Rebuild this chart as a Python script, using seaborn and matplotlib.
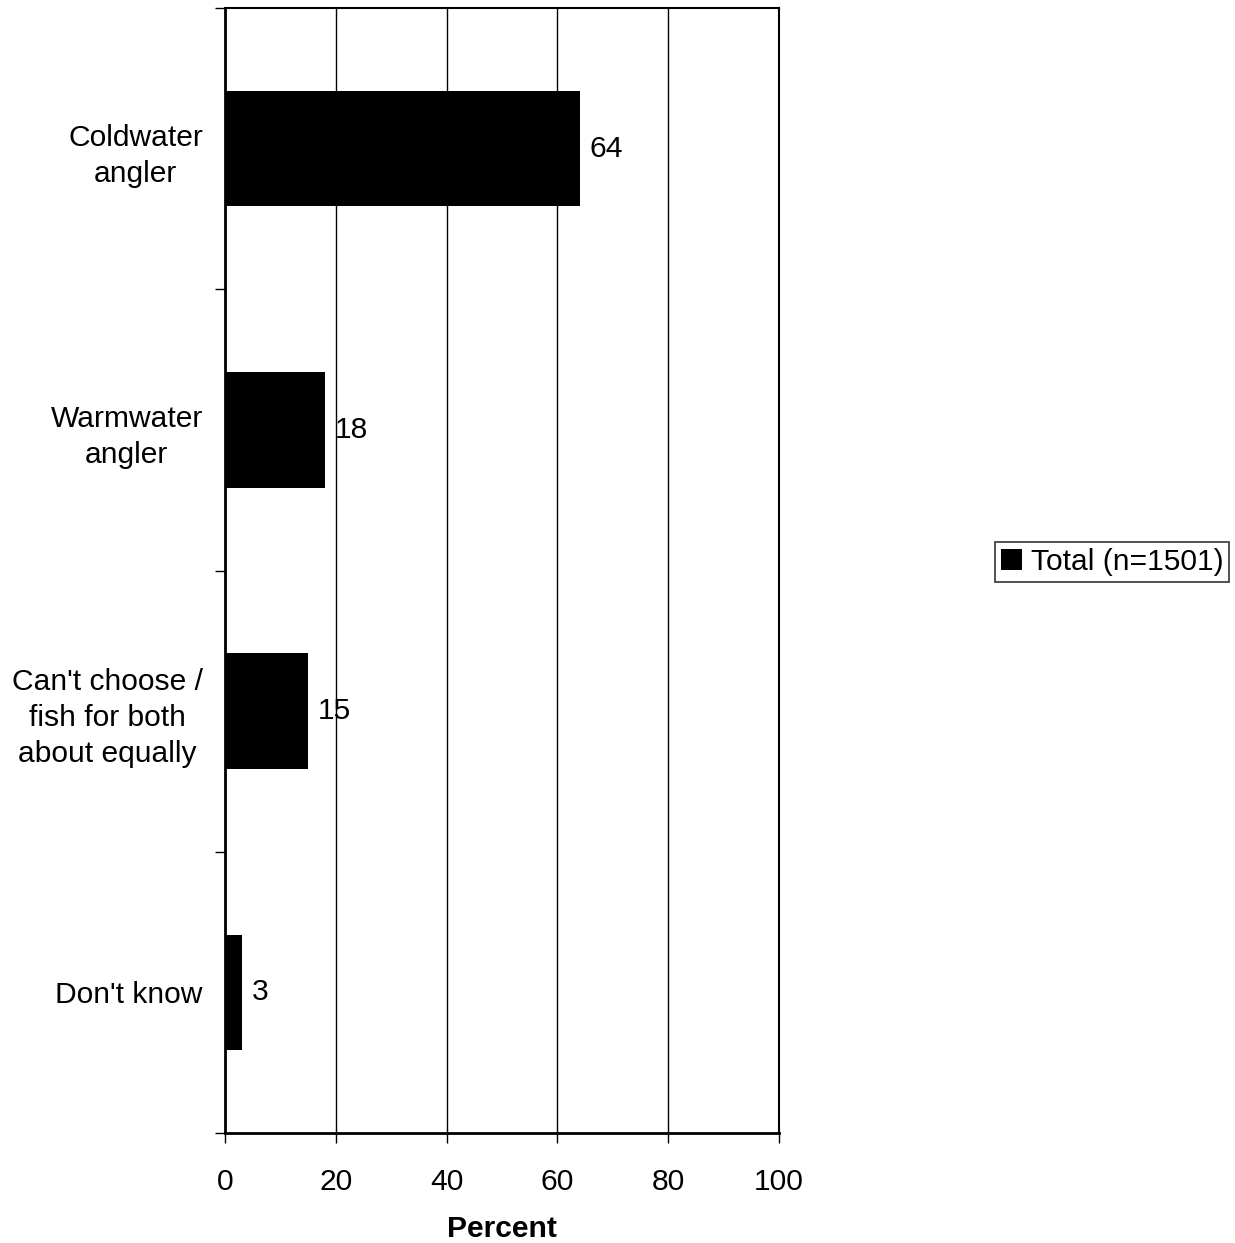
import matplotlib
matplotlib.use("Agg")
import matplotlib.pyplot as plt
import seaborn as sns
import pandas as pd

categories = ["Coldwater\nangler", "Warmwater\nangler",
              "Can't choose /\nfish for both\nabout equally", "Don't know"]
values = [64, 18, 15, 3]
series_name = "Total (n=1501)"
x_ticks = [0, 20, 40, 60, 80, 100]

sns.set_theme(style="white")
plt.rcParams['font.family'] = ['Liberation Sans', 'DejaVu Sans']
FS = 21.6
plt.rcParams['font.size'] = FS
plt.rcParams['text.color'] = 'black'
plt.rcParams['axes.labelcolor'] = 'black'
plt.rcParams['xtick.color'] = 'black'
plt.rcParams['ytick.color'] = 'black'

df = pd.DataFrame({"cat": categories, "val": values})

fig = plt.figure(figsize=(12.35, 12.43), dpi=100)
ax = fig.add_axes([225/1235, 1-1133/1243, (779-225)/1235, (1133-8)/1243])

sns.barplot(data=df, x="val", y="cat", color="black", width=0.41,
            saturation=1, ax=ax, label=series_name, linewidth=0)

ax.set_xlim(0, 100)
ax.set_ylim(len(categories)-0.5, -0.5)
ax.set_xticks(x_ticks)
ax.set_xticklabels([str(t) for t in x_ticks], fontsize=FS, color="black")
ax.xaxis.grid(True, color="black", linewidth=1)
ax.set_axisbelow(True)

# y ticks at category boundaries, labels at centers
ax.set_yticks([i - 0.5 for i in range(len(categories)+1)])
ax.set_yticklabels([])
ax.set_yticks(range(len(categories)), minor=True)
ax.set_yticklabels(categories, minor=True, fontsize=FS, ha="right",
                   multialignment="center", linespacing=1.36, color="black")
ax.tick_params(axis="y", which="minor", length=0, pad=16)
ax.tick_params(axis="y", which="major", length=7, width=1, color="black",
               direction="out", left=True)
ax.tick_params(axis="x", which="major", length=7, width=1, color="black",
               direction="out", bottom=True, pad=18)
ax.set_ylabel("")
ax.set_xlabel("Percent", fontsize=FS, fontweight="bold", labelpad=14,
              color="black")

for s in ax.spines.values():
    s.set_color("black")
    s.set_linewidth(1.5)
ax.spines["left"].set_linewidth(2)
ax.spines["bottom"].set_linewidth(2)

for c in ax.containers:
    ax.bar_label(c, labels=[str(v) for v in values], padding=7, fontsize=FS,
                 color="black")

leg = ax.legend(loc="center", bbox_to_anchor=(1112/1235, 1-562/1243),
                bbox_transform=fig.transFigure, frameon=True, fancybox=False,
                edgecolor="black", fontsize=FS, handlelength=0.7,
                handleheight=0.7, handletextpad=0.3, borderpad=0.2,
                borderaxespad=0)
leg.get_frame().set_linewidth(1.2)
for t in leg.get_texts():
    t.set_color("black")

fig.savefig("out.png", dpi=100)
